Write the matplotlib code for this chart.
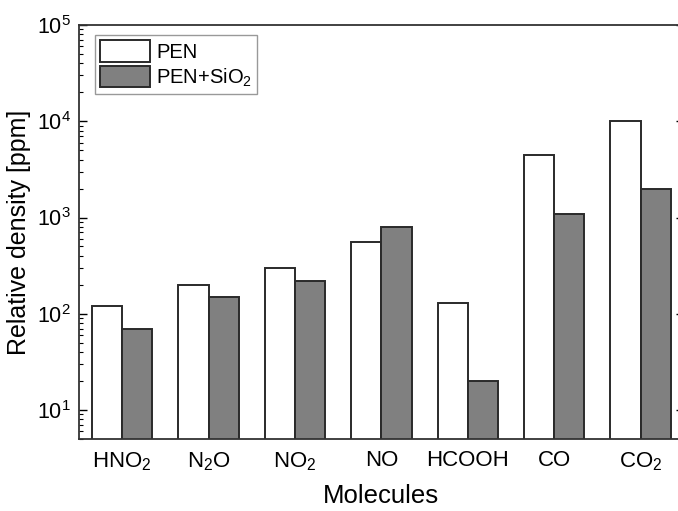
import numpy as np
import matplotlib.pyplot as plt
from matplotlib.ticker import LogLocator, NullFormatter

plt.rcParams['font.family'] = ['Liberation Sans', 'DejaVu Sans']
plt.rcParams['mathtext.fontset'] = 'custom'
plt.rcParams['mathtext.rm'] = 'Liberation Sans'
plt.rcParams['mathtext.default'] = 'rm'

molecules = ['HNO$_2$', 'N$_2$O', 'NO$_2$', 'NO', 'HCOOH', 'CO', 'CO$_2$']
pen = [120, 200, 300, 550, 130, 4500, 10000]
pen_sio2 = [70, 150, 220, 800, 20, 1100, 2000]

x = np.arange(len(molecules))
w = 0.35

fig = plt.figure(figsize=(6.78, 5.11), dpi=100)
ax = fig.add_axes([0.1165, 0.141, 0.892, 0.81])

ax.bar(x - w / 2, pen, w, color='white', edgecolor='#2a2a2a', linewidth=1.4, label='PEN')
ax.bar(x + w / 2, pen_sio2, w, color='#808080', edgecolor='#2a2a2a', linewidth=1.4,
       label='PEN+SiO$_2$')

ax.set_yscale('log')
ax.set_ylim(5, 1e5)
ax.set_xlim(-0.5, 6.5)
ax.set_xticks(x)
ax.set_xticklabels(molecules)
ax.yaxis.set_major_locator(LogLocator(base=10, numticks=10))
ax.yaxis.set_minor_locator(LogLocator(base=10, subs=np.arange(2, 10), numticks=10))
ax.yaxis.set_minor_formatter(NullFormatter())

ax.tick_params(axis='x', length=0, labelsize=16, pad=8)
ax.tick_params(axis='y', which='major', direction='in', length=6, width=1, labelsize=15.5,
               right=True, pad=6)
ax.tick_params(axis='y', which='minor', direction='in', length=3, width=0.8, right=True)

for s in ax.spines.values():
    s.set_linewidth(1.3)
    s.set_color('#333333')

ax.set_xlabel('Molecules', fontsize=18.5, labelpad=8)
ax.set_ylabel('Relative density [ppm]', fontsize=18, labelpad=4)

leg = ax.legend(loc='upper left', bbox_to_anchor=(0.026, 0.975), fontsize=14.5,
                frameon=True, fancybox=False, framealpha=1, edgecolor='#999999',
                handlelength=2.5, handleheight=1.25, labelspacing=0.2,
                borderpad=0.25, handletextpad=0.3, borderaxespad=0)
leg.get_frame().set_linewidth(1.0)

plt.savefig('out.png', dpi=100)
